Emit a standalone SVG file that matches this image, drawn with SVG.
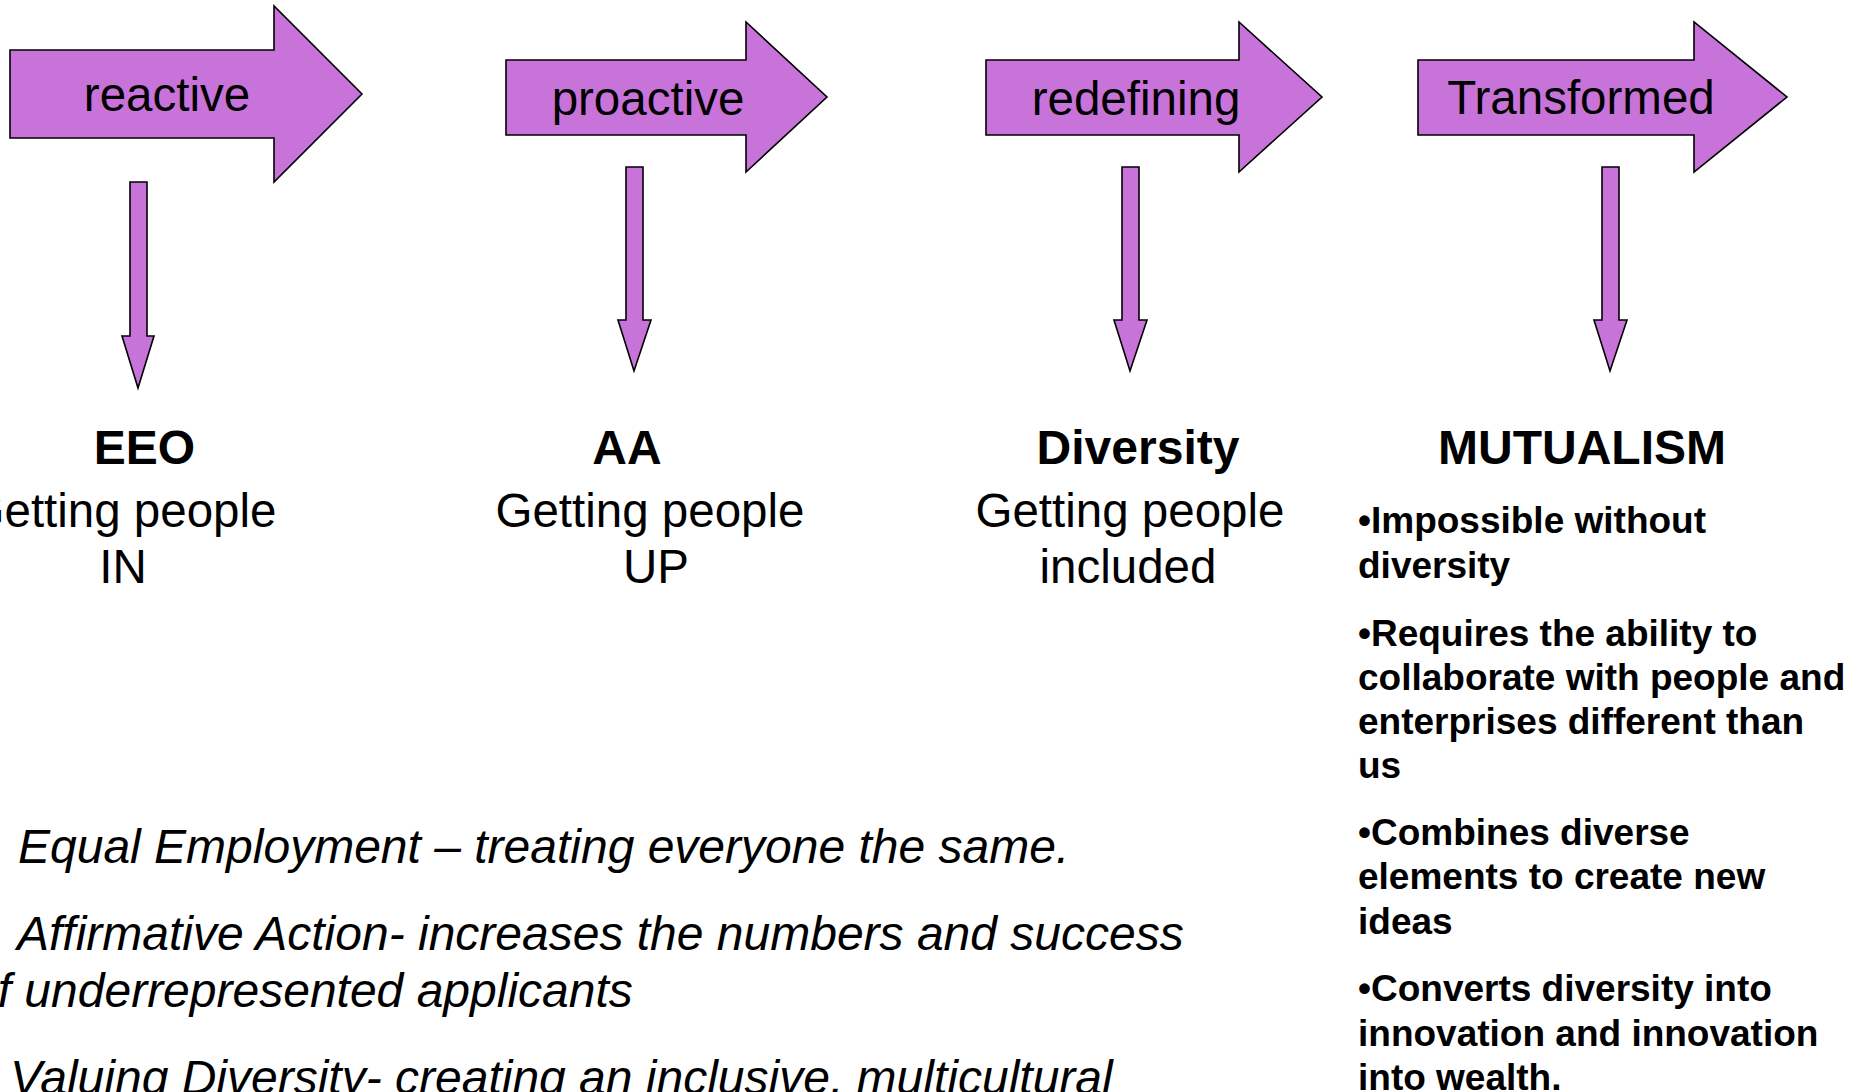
<svg xmlns="http://www.w3.org/2000/svg" width="1850" height="1092" viewBox="0 0 1850 1092">
<style>
.blk{fill:#C873DA;stroke:#000;stroke-width:1.6;stroke-linejoin:miter}
text{font-family:'Liberation Sans',Arial,Helvetica,sans-serif;fill:#000}
.lbl{font-size:47.5px;text-anchor:middle}
.ttl{font-size:48px;font-weight:bold;text-anchor:middle}
.bul{font-size:37px;font-weight:bold}
.ita{font-size:48px;font-style:italic}
</style>
<rect width="1850" height="1092" fill="#fff"/>
<g id="stage-reactive">
<polygon class="blk" points="10,50 274,50 274,6 362,94 274,182 274,138 10,138"/>
<text class="lbl" x="167" y="111">reactive</text>
</g>
<g id="stage-proactive">
<polygon class="blk" points="506,60 746,60 746,22 827,97 746,172 746,135 506,135"/>
<text class="lbl" x="648" y="115">proactive</text>
</g>
<g id="stage-redefining">
<polygon class="blk" points="986,60 1239,60 1239,22 1322,97 1239,172 1239,135 986,135"/>
<text class="lbl" x="1136" y="115">redefining</text>
</g>
<g id="stage-transformed">
<polygon class="blk" points="1418,60 1694,60 1694,22 1787,97 1694,172 1694,135 1418,135"/>
<text class="lbl" x="1581" y="114">Transformed</text>
</g>
<g id="connectors">
<polygon class="blk" points="130,182 147,182 147,336 154,336 138,388 122,336 130,336"/>
<polygon class="blk" points="626,167 643,167 643,320 651,320 634,371 618,320 626,320"/>
<polygon class="blk" points="1122,167 1139,167 1139,320 1147,320 1130,371 1114,320 1122,320"/>
<polygon class="blk" points="1602,167 1619,167 1619,320 1627,320 1610,371 1594,320 1602,320"/>
</g>
<g id="node-eeo">
<text class="ttl" x="144.5" y="464">EEO</text>
<text class="lbl" x="122" y="527">Getting people</text>
<text class="lbl" x="123" y="583">IN</text>
</g>
<g id="node-aa">
<text class="ttl" x="627" y="464">AA</text>
<text class="lbl" x="650" y="527">Getting people</text>
<text class="lbl" x="656" y="583">UP</text>
</g>
<g id="node-diversity">
<text class="ttl" x="1138" y="464">Diversity</text>
<text class="lbl" x="1130" y="527">Getting people</text>
<text class="lbl" x="1128" y="583">included</text>
</g>
<g id="node-mutualism">
<text class="ttl" x="1582" y="464">MUTUALISM</text>
<text class="bul" x="1358" y="533">•Impossible without</text>
<text class="bul" x="1358" y="578">diversity</text>
<text class="bul" x="1358" y="646">•Requires the ability to</text>
<text class="bul" x="1358" y="690">collaborate with people and</text>
<text class="bul" x="1358" y="734">enterprises different than</text>
<text class="bul" x="1358" y="778">us</text>
<text class="bul" x="1358" y="845">•Combines diverse</text>
<text class="bul" x="1358" y="889">elements to create new</text>
<text class="bul" x="1358" y="934">ideas</text>
<text class="bul" x="1358" y="1001">•Converts diversity into</text>
<text class="bul" x="1358" y="1046">innovation and innovation</text>
<text class="bul" x="1358" y="1090">into wealth.</text>
</g>
<g id="definitions">
<text class="ita" x="18" y="863">Equal Employment – treating everyone the same.</text>
<text class="ita" x="17" y="950">Affirmative Action- increases the numbers and success</text>
<text class="ita" x="-29" y="1007">of underrepresented applicants</text>
<text class="ita" x="10" y="1094">Valuing Diversity- creating an inclusive, multicultural</text>
</g>
</svg>
